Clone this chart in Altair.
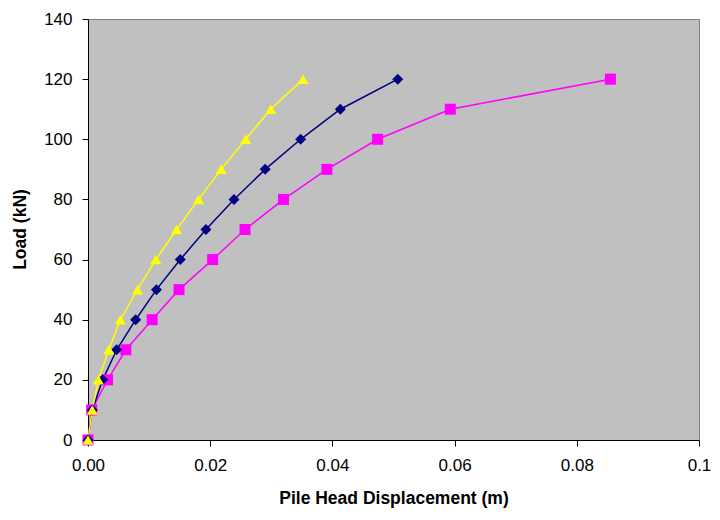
import altair as alt
import pandas as pd

# ---- data ----
loads = [0, 10, 20, 30, 40, 50, 60, 70, 80, 90, 100, 110, 120]
series_names = ["Φ = 29.5°", "Φ = 33°", "Φ = 38°"]
disp_295 = [0.0, 0.0006, 0.0032, 0.0062, 0.0105, 0.0149, 0.0204, 0.0257, 0.0320, 0.0391, 0.0474, 0.0593, 0.0855]
disp_33 = [0.0, 0.0007, 0.0024, 0.0047, 0.0078, 0.0112, 0.0151, 0.0193, 0.0239, 0.0290, 0.0348, 0.0413, 0.0507]
disp_38 = [0.0, 0.0007, 0.0017, 0.0034, 0.0053, 0.0081, 0.0111, 0.0145, 0.0181, 0.0218, 0.0258, 0.0299, 0.0352]
x_ticks = [0.0, 0.02, 0.04, 0.06, 0.08, 0.1]
y_ticks = [0, 20, 40, 60, 80, 100, 120, 140]

# ---- styles ----
colors = ["#FF00FF", "#000080", "#FFFF00"]
marker_shapes = ["square", "diamond", "triangle-up"]

rows = []
for name, disp in zip(series_names, [disp_295, disp_33, disp_38]):
    for ld, d in zip(loads, disp):
        rows.append({"series": name, "disp": d, "load": ld})
df = pd.DataFrame(rows)

FONT = "Liberation Sans"

x = alt.X(
    "disp:Q",
    scale=alt.Scale(domain=[0, 0.1], nice=False),
    axis=alt.Axis(
        title="Pile Head Displacement (m)",
        values=x_ticks,
        labelExpr="datum.value >= 0.099 ? '0.1' : format(datum.value, '.2f')",
        labelFlush=False,
        tickSize=6,
        labelPadding=11,
        titleY=63,
        titleBaseline="alphabetic",
    ),
)
y = alt.Y(
    "load:Q",
    scale=alt.Scale(domain=[0, 140], nice=False),
    axis=alt.Axis(
        title="Load (kN)",
        values=y_ticks,
        tickSize=6,
        labelPadding=10,
        titleX=-63,
        titleY=210,
        titleAngle=270,
        titleBaseline="alphabetic",
    ),
)

color_scale = alt.Scale(domain=series_names, range=colors)
shape_scale = alt.Scale(domain=series_names, range=marker_shapes)
base = alt.Chart(df).encode(x=x, y=y)

leg = alt.Legend(
    title=None,
    orient="none",
    legendX=423,
    legendY=253,
    fillColor="white",
    strokeColor="black",
    padding=9,
    rowPadding=15,
    symbolSize=64,
    symbolStrokeWidth=1,
    symbolOffset=12,
    labelOffset=22,
    labelFont=FONT,
    labelFontSize=19,
    labelColor="black",
    symbolOpacity=1,
)

lines = base.mark_line(strokeWidth=1.5).encode(
    color=alt.Color("series:N", scale=color_scale, legend=None),
    order=alt.Order("load:Q"),
)

points = base.mark_point(filled=True, opacity=1, size=121).encode(
    color=alt.Color("series:N", scale=color_scale, legend=leg),
    shape=alt.Shape("series:N", scale=shape_scale, legend=leg),
)

chart = (
    alt.layer(lines, points)
    .properties(
        width=611,
        height=421,
        padding={"left": 3, "top": 2, "right": 0, "bottom": 5},
        background="white",
    )
    .configure_view(fill="#C0C0C0", stroke="#808080", strokeWidth=1)
    .configure_axis(
        grid=False,
        domainColor="black",
        domainWidth=1,
        tickColor="black",
        labelColor="black",
        labelFont=FONT,
        labelFontSize=17,
        titleFont=FONT,
        titleFontSize=17.5,
        titleFontWeight="bold",
        titleColor="black",
    )
)

chart.save("out.html", embed_options={"renderer": "svg", "actions": False})
